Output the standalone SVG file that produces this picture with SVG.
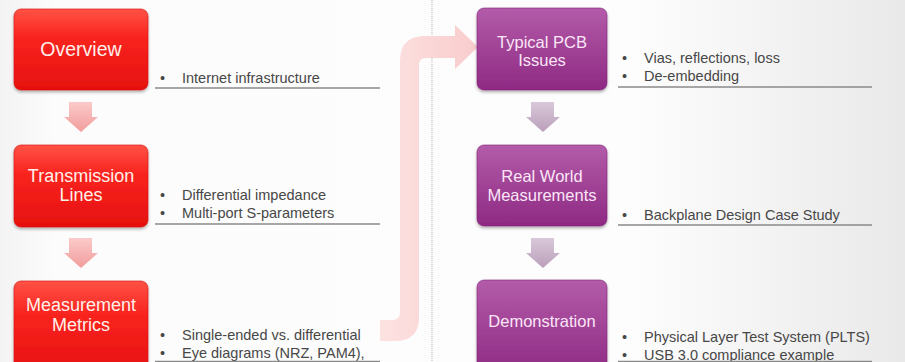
<svg xmlns="http://www.w3.org/2000/svg" width="905" height="362" viewBox="0 0 905 362">
<defs>
<linearGradient id="bg" x1="0" y1="0" x2="1" y2="0">
<stop offset="0" stop-color="#f3f3f3"/>
<stop offset="0.06" stop-color="#fcfcfc"/>
<stop offset="0.7" stop-color="#fdfdfd"/>
<stop offset="1" stop-color="#e9e9e9"/>
</linearGradient>
<linearGradient id="red" x1="0" y1="0" x2="0" y2="1">
<stop offset="0" stop-color="#ff5246"/>
<stop offset="0.35" stop-color="#f9241f"/>
<stop offset="1" stop-color="#e6100f"/>
</linearGradient>
<linearGradient id="purple" x1="0" y1="0" x2="0" y2="1">
<stop offset="0" stop-color="#b35ba9"/>
<stop offset="1" stop-color="#8e2a83"/>
</linearGradient>
<linearGradient id="pinkArrow" x1="0" y1="0" x2="0" y2="1">
<stop offset="0" stop-color="#fbcaca"/>
<stop offset="1" stop-color="#f29c9c"/>
</linearGradient>
<linearGradient id="lavArrow" x1="0" y1="0" x2="0" y2="1">
<stop offset="0" stop-color="#d9c8d9"/>
<stop offset="1" stop-color="#bb9fbb"/>
</linearGradient>
<linearGradient id="bigArrow" x1="0" y1="0" x2="1" y2="0">
<stop offset="0" stop-color="#fde2e2"/>
<stop offset="1" stop-color="#f9cccc"/>
</linearGradient>
<filter id="sh" x="-10%" y="-10%" width="120%" height="130%">
<feDropShadow dx="0" dy="2" stdDeviation="1.5" flood-color="#000" flood-opacity="0.3"/>
</filter>
</defs>
<style>
.rbox{fill:url(#red);stroke:#d41212;stroke-width:0.6;filter:url(#sh)}
.pbox{fill:url(#purple);stroke:#83247a;stroke-width:0.6;filter:url(#sh)}
.rt{font-family:"Liberation Sans",Arial,sans-serif;font-size:18px;fill:#fff0ea;text-anchor:middle}
.pt{font-family:"Liberation Sans",Arial,sans-serif;font-size:16.5px;fill:#fbe6f7;text-anchor:middle}
.bt{font-family:"Liberation Sans",Arial,sans-serif;font-size:14.5px;fill:#474747}
.rule{stroke:#8a8a8a;stroke-width:1.5}
</style>
<rect x="0" y="0" width="905" height="362" fill="url(#bg)"/>
<line x1="432" y1="0" x2="432" y2="362" stroke="#b5b5b5" stroke-width="1" stroke-dasharray="1 1"/>

<g id="connectors">
<path d="M69,102 H92 V117 H98 L81,132 L64,117 H69 Z" fill="url(#pinkArrow)"/>
<path d="M69,238 H92 V253 H98 L81,268 L64,253 H69 Z" fill="url(#pinkArrow)"/>
<path d="M531,102 H554 V117 H560 L543,132 L526,117 H531 Z" fill="url(#lavArrow)"/>
<path d="M531,238 H554 V253 H560 L543,268 L526,253 H531 Z" fill="url(#lavArrow)"/>
<path d="M380,320 L392,320 Q400,320 400,312 L400,61 Q400,36 425,36 L455,36 L455,25 L478,47 L455,69 L455,58 L426,58 Q419,58 419,65 L419,317 Q419,341 395,341 L380,341 Z" fill="url(#bigArrow)"/>
</g>

<g id="overview">
<rect class="rbox" x="14" y="9" width="134" height="81" rx="7"/>
<text class="rt" x="81" y="56" style="font-size:19.5px">Overview</text>
</g>
<g id="overview-notes">
<text class="bt" x="160" y="83">•</text>
<text class="bt" x="182" y="83">Internet infrastructure</text>
<line class="rule" x1="155" y1="88" x2="380" y2="88"/>
</g>

<g id="transmission-lines">
<rect class="rbox" x="14" y="145" width="134" height="82" rx="7"/>
<text class="rt" x="81" y="182">Transmission</text>
<text class="rt" x="81" y="201">Lines</text>
</g>
<g id="transmission-notes">
<text class="bt" x="160" y="200">•</text>
<text class="bt" x="182" y="200">Differential impedance</text>
<text class="bt" x="160" y="218">•</text>
<text class="bt" x="182" y="218">Multi-port S-parameters</text>
<line class="rule" x1="155" y1="224" x2="380" y2="224"/>
</g>

<g id="measurement-metrics">
<rect class="rbox" x="14" y="281" width="134" height="95" rx="7"/>
<text class="rt" x="81" y="311">Measurement</text>
<text class="rt" x="81" y="331">Metrics</text>
</g>
<g id="measurement-notes">
<text class="bt" x="160" y="340">•</text>
<text class="bt" x="182" y="340">Single-ended vs. differential</text>
<text class="bt" x="160" y="358">•</text>
<text class="bt" x="182" y="358">Eye diagrams (NRZ, PAM4),</text>
<line class="rule" x1="155" y1="361.5" x2="380" y2="361.5"/>
</g>

<g id="typical-pcb-issues">
<rect class="pbox" x="477" y="8" width="130" height="82" rx="7"/>
<text class="pt" x="542" y="48">Typical PCB</text>
<text class="pt" x="542" y="66">Issues</text>
</g>
<g id="pcb-notes">
<text class="bt" x="622" y="63">•</text>
<text class="bt" x="644" y="63">Vias, reflections, loss</text>
<text class="bt" x="622" y="81">•</text>
<text class="bt" x="644" y="81">De-embedding</text>
<line class="rule" x1="618" y1="87" x2="872" y2="87"/>
</g>

<g id="real-world-measurements">
<rect class="pbox" x="477" y="145" width="130" height="81" rx="7"/>
<text class="pt" x="542" y="182">Real World</text>
<text class="pt" x="542" y="201">Measurements</text>
</g>
<g id="real-world-notes">
<text class="bt" x="622" y="220">•</text>
<text class="bt" x="644" y="220">Backplane Design Case Study</text>
<line class="rule" x1="618" y1="225" x2="872" y2="225"/>
</g>

<g id="demonstration">
<rect class="pbox" x="477" y="280" width="130" height="95" rx="7"/>
<text class="pt" x="542" y="327">Demonstration</text>
</g>
<g id="demonstration-notes">
<text class="bt" x="622" y="342">•</text>
<text class="bt" x="644" y="342">Physical Layer Test System (PLTS)</text>
<text class="bt" x="622" y="360">•</text>
<text class="bt" x="644" y="360">USB 3.0 compliance example</text>
<line class="rule" x1="618" y1="361.5" x2="872" y2="361.5"/>
</g>
</svg>
